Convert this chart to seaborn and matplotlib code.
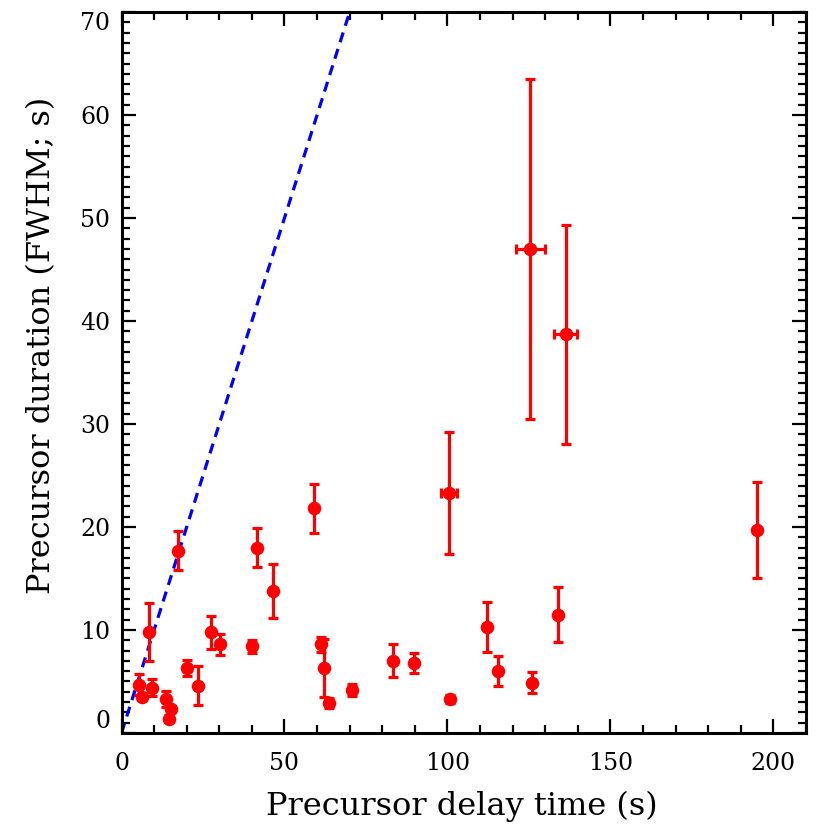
import numpy as np
import pandas as pd
import matplotlib
matplotlib.use("Agg")
import matplotlib.pyplot as plt
import seaborn as sns
from matplotlib.ticker import MultipleLocator

# ---- data ----
delay = [5.4, 6.2, 8.5, 9.4, 13.5, 15.3, 14.6, 17.3, 20.2, 23.5, 27.4, 30.2,
         40.0, 41.7, 46.4, 59.2, 61.2, 62.2, 63.6, 70.6, 83.4, 89.8, 100.5,
         100.8, 112.2, 115.5, 125.8, 125.4, 133.9, 136.3, 195.0]
duration = [4.7, 3.5, 9.8, 4.4, 3.3, 2.3, 1.4, 17.7, 6.3, 4.6, 9.8, 8.6,
            8.4, 18.0, 13.8, 21.8, 8.6, 6.3, 2.9, 4.2, 7.0, 6.8, 23.3,
            3.3, 10.3, 6.0, 4.9, 47.0, 11.5, 38.7, 19.7]
duration_err = [1.0, 0.3, 2.8, 0.8, 0.8, 0.3, 0.3, 1.9, 0.75, 1.9, 1.6, 1.0,
                0.6, 1.9, 2.6, 2.4, 0.7, 2.85, 0.5, 0.6, 1.6, 1.0, 5.9,
                0.4, 2.4, 1.45, 1.0, 16.5, 2.65, 10.6, 4.7]
delay_err = [0, 0, 0, 0, 0, 0, 0, 0, 0, 0, 0, 0,
             0, 0, 0, 0, 0, 0, 0, 0, 0, 0, 2.4,
             0, 0, 0, 0, 4.4, 0, 3.6, 0]
equal_line = [0, 70]

df = pd.DataFrame({"delay": delay, "duration": duration,
                   "derr": duration_err, "xerr": delay_err})

sns.set_style("ticks")
plt.rcParams['font.family'] = ['DejaVu Serif', 'DejaVu Sans']
plt.rcParams['text.color'] = 'black'
plt.rcParams['axes.labelcolor'] = 'black'

fig = plt.figure(figsize=(8.3, 8.3), dpi=100)
ax = fig.add_axes([0.1464, 0.1169, 0.8246, 0.8686])

red = "#ff0000"
ax.errorbar(df["delay"], df["duration"], yerr=df["derr"], xerr=df["xerr"],
            fmt="none", ecolor=red, elinewidth=2.3, capsize=3.5, capthick=2.3,
            zorder=2)
sns.scatterplot(data=df, x="delay", y="duration", ax=ax, color=red, s=95,
                edgecolor=red, linewidth=0, zorder=3)
sns.lineplot(x=equal_line, y=equal_line, ax=ax, color="#0000ff",
             linestyle=(0, (3.2, 2.2)), linewidth=2.3, zorder=1)

ax.set_xlim(0, 210)
ax.set_ylim(0, 70)
ax.xaxis.set_major_locator(MultipleLocator(50))
ax.xaxis.set_minor_locator(MultipleLocator(10))
ax.yaxis.set_major_locator(MultipleLocator(10))
ax.yaxis.set_minor_locator(MultipleLocator(1))
ax.tick_params(which="both", direction="in", top=True, right=True,
               width=1.6, colors="black", labelsize=17)
ax.tick_params(which="major", length=10)
ax.tick_params(which="minor", length=5.5)
ax.tick_params(axis="x", which="major", pad=14)
ax.tick_params(axis="y", which="major", pad=8)
for sp in ax.spines.values():
    sp.set_linewidth(2.2)
    sp.set_color("black")

ax.set_xlabel("Precursor delay time (s)", fontsize=23)
ax.set_ylabel("Precursor duration (FWHM; s)", fontsize=23)
ax.xaxis.set_label_coords(0.497, -0.080)
ax.yaxis.set_label_coords(-0.094, 0.538)

fig.canvas.draw()
for lab in ax.get_yticklabels():
    if lab.get_text() == "0":
        lab.set_va("bottom")
    elif lab.get_text() == "70":
        lab.set_va("top")

fig.savefig("out.png", dpi=100)
